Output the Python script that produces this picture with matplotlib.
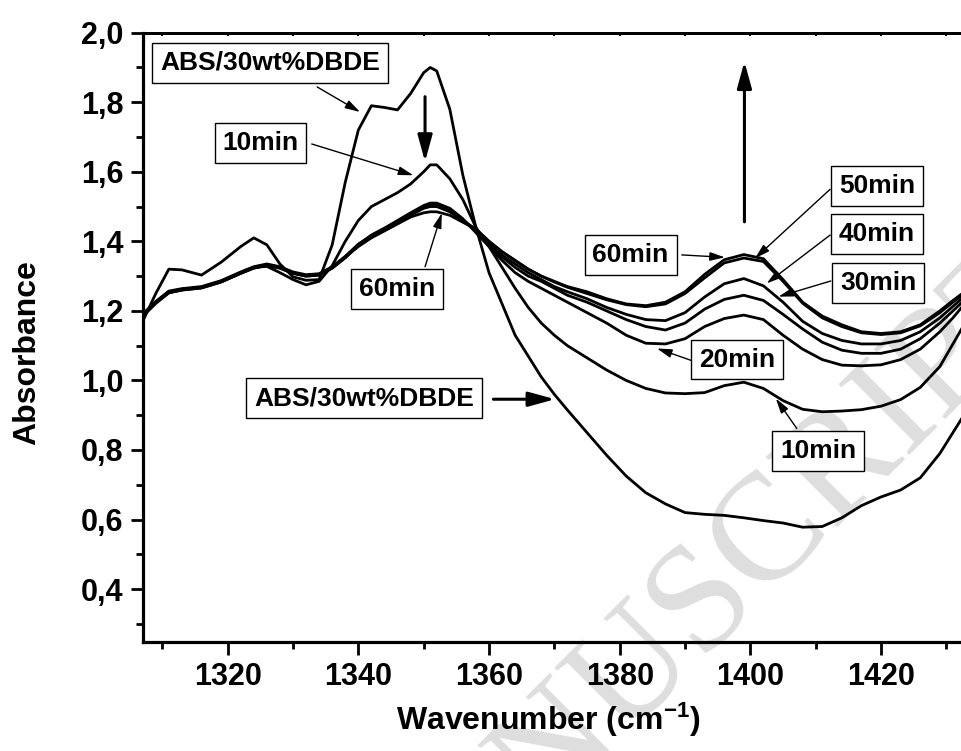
import matplotlib
matplotlib.use('Agg')
import matplotlib.pyplot as plt
from matplotlib.ticker import MultipleLocator, FuncFormatter

plt.rcParams['font.family'] = 'Liberation Sans'
plt.rcParams['font.weight'] = 'bold'
plt.rcParams['mathtext.fontset'] = 'custom'
plt.rcParams['mathtext.rm'] = 'Liberation Sans:bold'
plt.rcParams['mathtext.bf'] = 'Liberation Sans:bold'
plt.rcParams['mathtext.it'] = 'Liberation Sans:bold'
plt.rcParams['mathtext.default'] = 'rm'

# wavenumber grid (cm-1) shared by every spectrum
wavenumber = [1307, 1309, 1311, 1313, 1316, 1319, 1322, 1324, 1326, 1328,
              1330, 1332, 1334, 1336, 1338, 1340, 1342, 1344, 1346, 1348,
              1350, 1351, 1352, 1354, 1356, 1358, 1360, 1362, 1364, 1366,
              1368, 1370, 1372, 1375, 1378, 1381, 1384, 1387, 1390, 1393,
              1396, 1399, 1402, 1405, 1408, 1411, 1414, 1417, 1420, 1423,
              1426, 1429, 1431, 1433]

abs_dbde = [1.17, 1.25, 1.32, 1.318, 1.303, 1.34, 1.385, 1.41, 1.39, 1.335,
            1.298, 1.288, 1.29, 1.39, 1.57, 1.72, 1.79, 1.785, 1.778, 1.825,
            1.885, 1.90, 1.89, 1.78, 1.59, 1.44, 1.31, 1.22, 1.13, 1.07,
            1.01, 0.96, 0.915, 0.85, 0.785, 0.725, 0.677, 0.645, 0.62, 0.615,
            0.612, 0.605, 0.597, 0.59, 0.578, 0.58, 0.605, 0.64, 0.665, 0.685,
            0.72, 0.79, 0.85, 0.91]

min10 = [1.19, 1.225, 1.255, 1.262, 1.268, 1.285, 1.31, 1.325, 1.328, 1.31,
         1.29, 1.275, 1.285, 1.33, 1.40, 1.46, 1.50, 1.52, 1.54, 1.565,
         1.60, 1.62, 1.62, 1.58, 1.52, 1.44, 1.385, 1.325, 1.265, 1.21,
         1.165, 1.13, 1.10, 1.065, 1.03, 1.0, 0.977, 0.964, 0.962, 0.965,
         0.985, 0.995, 0.977, 0.942, 0.917, 0.91, 0.912, 0.916, 0.926, 0.945,
         0.98, 1.04, 1.105, 1.17]

min20 = [1.185, 1.222, 1.252, 1.26, 1.266, 1.283, 1.308, 1.323, 1.331, 1.323,
         1.308, 1.3, 1.303, 1.323, 1.353, 1.39, 1.418, 1.438, 1.46, 1.482,
         1.503, 1.51, 1.51, 1.495, 1.465, 1.425, 1.385, 1.345, 1.31, 1.285,
         1.265, 1.245, 1.225, 1.195, 1.165, 1.13, 1.107, 1.105, 1.12, 1.155,
         1.178, 1.188, 1.175, 1.13, 1.09, 1.06, 1.044, 1.042, 1.045, 1.06,
         1.09, 1.14, 1.18, 1.225]

min30 = [1.185, 1.222, 1.252, 1.26, 1.266, 1.283, 1.308, 1.323, 1.331, 1.323,
         1.308, 1.3, 1.303, 1.323, 1.353, 1.388, 1.413, 1.433, 1.455, 1.478,
         1.5, 1.507, 1.507, 1.492, 1.462, 1.43, 1.39, 1.355, 1.325, 1.30,
         1.285, 1.265, 1.245, 1.225, 1.2, 1.175, 1.155, 1.145, 1.165, 1.205,
         1.233, 1.245, 1.23, 1.19, 1.148, 1.11, 1.087, 1.078, 1.078, 1.09,
         1.12, 1.165, 1.2, 1.235]

min40 = [1.19, 1.227, 1.257, 1.264, 1.27, 1.287, 1.312, 1.327, 1.335, 1.327,
         1.312, 1.304, 1.307, 1.327, 1.357, 1.392, 1.417, 1.437, 1.457, 1.477,
         1.497, 1.505, 1.505, 1.49, 1.46, 1.43, 1.395, 1.36, 1.335, 1.31,
         1.29, 1.27, 1.255, 1.235, 1.21, 1.19, 1.175, 1.172, 1.195, 1.24,
         1.278, 1.293, 1.272, 1.225, 1.17, 1.135, 1.115, 1.105, 1.105, 1.115,
         1.14, 1.18, 1.213, 1.245]

min50 = [1.19, 1.225, 1.255, 1.262, 1.268, 1.285, 1.31, 1.325, 1.333, 1.325,
         1.31, 1.302, 1.305, 1.325, 1.355, 1.39, 1.415, 1.435, 1.455, 1.475,
         1.495, 1.50, 1.50, 1.485, 1.46, 1.435, 1.40, 1.37, 1.345, 1.32,
         1.30, 1.283, 1.268, 1.25, 1.232, 1.218, 1.212, 1.22, 1.25, 1.295,
         1.338, 1.352, 1.342, 1.285, 1.222, 1.18, 1.155, 1.137, 1.132, 1.137,
         1.157, 1.195, 1.225, 1.252]

min60 = [1.19, 1.225, 1.255, 1.262, 1.268, 1.285, 1.31, 1.325, 1.333, 1.325,
         1.31, 1.302, 1.305, 1.325, 1.355, 1.385, 1.41, 1.43, 1.45, 1.47,
         1.482, 1.485, 1.485, 1.475, 1.455, 1.435, 1.40, 1.37, 1.345, 1.32,
         1.30, 1.285, 1.27, 1.255, 1.235, 1.22, 1.215, 1.225, 1.255, 1.305,
         1.347, 1.362, 1.35, 1.29, 1.225, 1.185, 1.16, 1.14, 1.135, 1.14,
         1.16, 1.20, 1.23, 1.258]

spectra = [abs_dbde, min10, min20, min30, min40, min50, min60]

fig = plt.figure(figsize=(9.61, 7.51), dpi=100)
ax = fig.add_axes([142.7 / 961, 1 - 642.3 / 751, (966 - 142.7) / 961, (642.3 - 32.7) / 751])

# watermark of the source pdf
ax.text(0.386, -0.317, 'MANUSCRIPT', transform=fig.transFigure, rotation=45,
        rotation_mode='anchor', ha='left', va='baseline', fontsize=110,
        family='Liberation Serif', fontweight='normal', color='#dedede',
        zorder=1, clip_on=False)

for y in spectra:
    ax.plot(wavenumber, y, color='black', lw=2.0, zorder=3)

ax.set_xlim(1307, 1433)
ax.set_ylim(0.247, 2.0)

ax.xaxis.set_major_locator(MultipleLocator(20))
ax.xaxis.set_minor_locator(MultipleLocator(10))
ax.yaxis.set_major_locator(MultipleLocator(0.2))
ax.yaxis.set_minor_locator(MultipleLocator(0.1))
ax.yaxis.set_major_formatter(FuncFormatter(lambda v, p: ('%.1f' % v).replace('.', ',')))

ax.tick_params(which='major', direction='out', length=9, width=2, labelsize=22, pad=5)
ax.tick_params(which='minor', direction='out', length=5, width=2)
for s in ['left', 'bottom']:
    ax.spines[s].set_linewidth(2.3)
ax.spines['top'].set_linewidth(2.0)
ax.spines['right'].set_linewidth(2.0)

sec = ax.secondary_xaxis('top')
sec.xaxis.set_major_locator(MultipleLocator(10))
sec.tick_params(direction='in', length=2.5, width=1.5, labeltop=False)
sec.spines['top'].set_linewidth(2.0)

ax.set_xlabel('Wavenumber (cm$^{-1}$)', fontsize=23, fontweight='bold')
ax.set_ylabel('Absorbance', fontsize=23, fontweight='bold')
ax.xaxis.set_label_coords(0.493, -0.096)
ax.yaxis.set_label_coords(-0.1223, 0.476)

box = dict(boxstyle='square,pad=0.3', fc='white', ec='black', lw=1.0)
labels = [
    ('ABS/30wt%DBDE', 1326.49, 1.914),
    ('10min', 1325.03, 1.684),
    ('60min', 1345.93, 1.263),
    ('60min', 1381.67, 1.361),
    ('50min', 1419.40, 1.559),
    ('40min', 1419.40, 1.420),
    ('30min', 1419.55, 1.280),
    ('20min', 1398.01, 1.060),
    ('10min', 1410.41, 0.798),
    ('ABS/30wt%DBDE', 1340.87, 0.949),
]
for s, x, y in labels:
    ax.text(x, y, s, ha='center', va='center', fontsize=19, fontweight='bold',
            bbox=box, zorder=5)

thin = [
    ((1333.7, 1.844), (1340.26, 1.772)),
    ((1332.87, 1.680), (1348.42, 1.590)),
    ((1350.21, 1.327), (1352.77, 1.481)),
    ((1389.5, 1.361), (1396.1, 1.354)),
    ((1412.2, 1.5496), (1400.7, 1.351)),
    ((1412.2, 1.418), (1402.5, 1.279)),
    ((1412.3, 1.286), (1404.3, 1.241)),
    ((1391.5, 1.054), (1385.7, 1.092)),
    ((1407.1, 0.862), (1403.9, 0.948)),
]
for start, tip in thin:
    ax.annotate('', xy=tip, xytext=start, zorder=4,
                arrowprops=dict(arrowstyle='-|>,head_length=0.45,head_width=0.13',
                                mutation_scale=20, lw=1.0, color='black',
                                shrinkA=0, shrinkB=0))

thick = [
    ((1350.21, 1.816), (1350.21, 1.629)),
    ((1399.09, 1.456), (1399.09, 1.917)),
    ((1360.67, 0.946), (1370.11, 0.946)),
]
for start, tip in thick:
    ax.annotate('', xy=tip, xytext=start, zorder=4,
                arrowprops=dict(arrowstyle='-|>,head_length=0.8,head_width=0.22',
                                mutation_scale=20, lw=2.2, color='black',
                                shrinkA=0, shrinkB=0))

fig.savefig('out.png', dpi=100)
